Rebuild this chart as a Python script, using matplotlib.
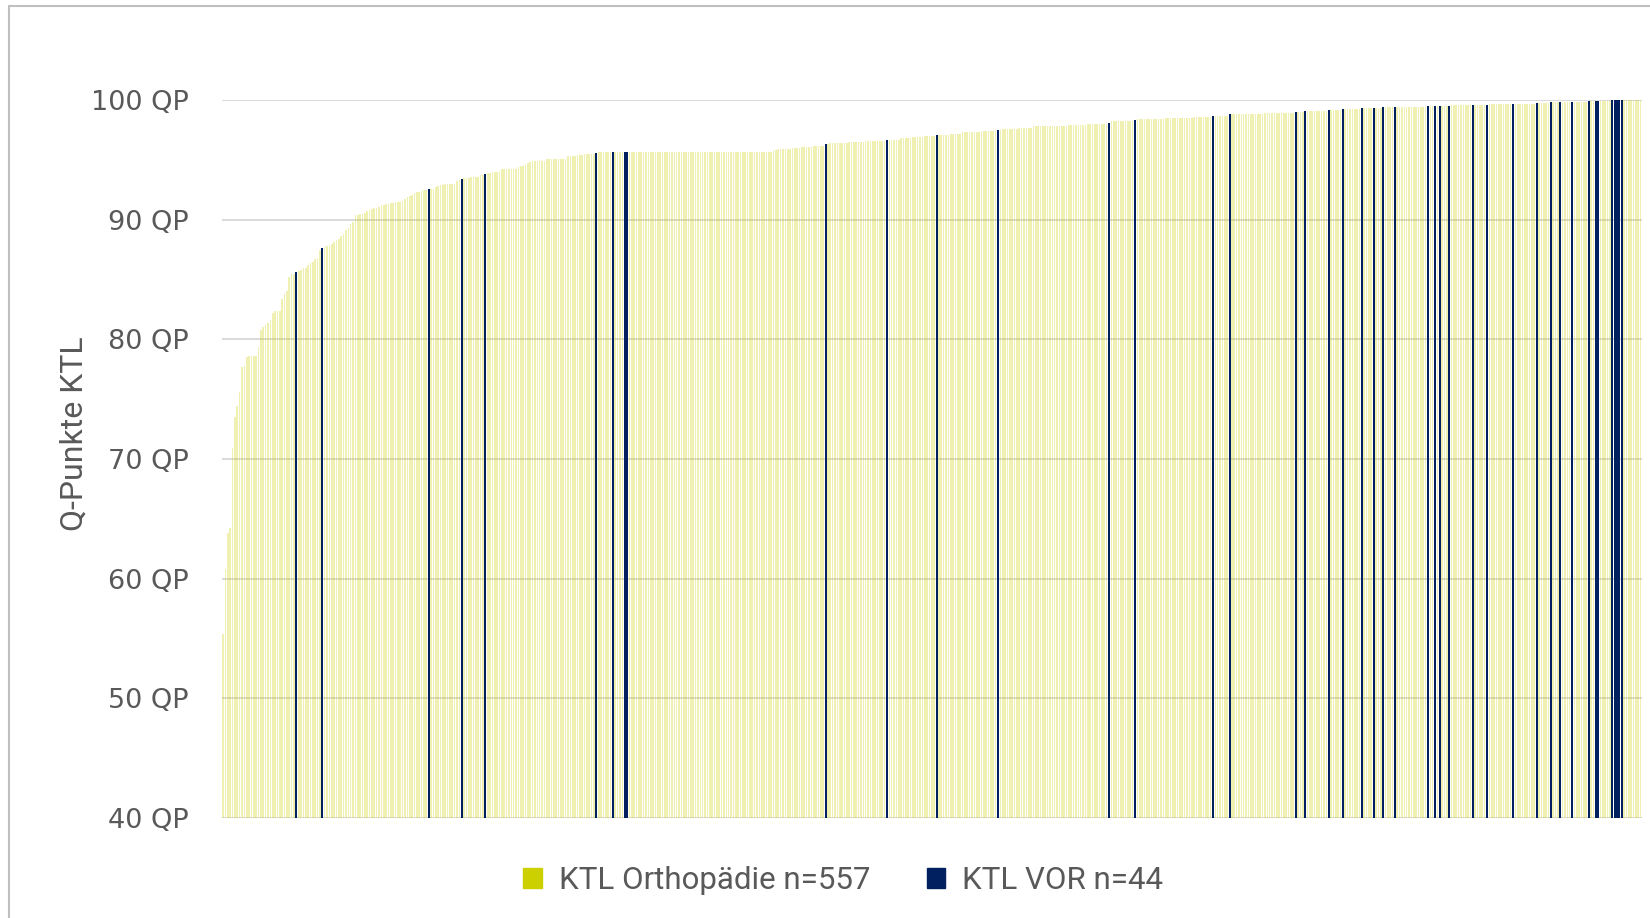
import numpy as np
import matplotlib.pyplot as plt
from matplotlib.patches import Patch, Rectangle

# KTL Orthopädie: Q-Punkte (Wert, Anzahl Einrichtungen)
ortho_qp = [55.4, 60.8, 63.8, 64.2, 70.9, 73.5, 74.4, 75.6, 77.7, 77.8, 78.5, 78.6,
            79.4, 80.8, 81.0, 81.2, 81.4, 81.6, 82.2, 82.4, 83.4, 83.8, 84.0, 85.2,
            85.5, 85.7, 85.8, 86.0, 86.2, 86.4, 86.5, 86.7, 86.8, 87.5, 87.7, 87.8,
            87.9, 88.0, 88.1, 88.3, 88.4, 88.6, 88.8, 89.1, 89.3, 89.6, 89.8, 90.4,
            90.5, 90.6, 90.7, 90.8, 90.9, 91.0, 91.1, 91.2, 91.3, 91.4, 91.5, 91.6,
            91.7, 91.9, 92.0, 92.1, 92.2, 92.3, 92.4, 92.5, 92.6, 92.7, 92.8, 92.9,
            93.0, 93.2, 93.3, 93.5, 93.6, 93.7, 93.9, 94.0, 94.1, 94.2, 94.4, 94.5,
            94.6, 94.7, 94.8, 94.9, 95.1, 95.3, 95.4, 95.5, 95.65, 95.68, 95.7, 95.8,
            95.9, 96.0, 96.1, 96.2, 96.3, 96.4, 96.5, 96.6, 96.7, 96.8, 96.9, 97.0,
            97.1, 97.2, 97.3, 97.4, 97.5, 97.6, 97.7, 97.8, 97.9, 98.0, 98.25, 98.4,
            98.5, 98.6, 98.7, 98.8, 98.9, 99.0, 99.05, 99.1, 99.2, 99.25, 99.3, 99.35,
            99.38, 99.45, 99.5, 99.51, 99.52, 99.55, 99.58, 99.65, 99.7, 99.75, 99.8,
            99.82, 99.85, 99.9, 99.95, 100.0]
ortho_n = [1, 1, 1, 1, 1, 1, 1, 1, 1, 1, 1, 4,
           1, 1, 1, 1, 1, 1, 1, 3, 1, 1, 1, 1,
           2, 1, 1, 2, 1, 1, 1, 1, 1, 1, 1, 1,
           1, 1, 1, 1, 1, 1, 1, 1, 1, 1, 1, 2,
           2, 1, 1, 1, 1, 2, 1, 2, 2, 2, 3, 1,
           1, 1, 1, 1, 1, 2, 1, 2, 2, 1, 1, 2,
           5, 1, 1, 3, 4, 2, 2, 3, 1, 7, 1, 2,
           1, 1, 1, 6, 9, 4, 3, 5, 6, 4, 61, 2,
           6, 4, 5, 5, 1, 8, 7, 9, 5, 5, 5, 5,
           5, 5, 8, 7, 1, 7, 6, 15, 8, 9, 10, 12,
           12, 8, 6, 14, 13, 3, 1, 8, 5, 7, 4, 3,
           4, 13, 2, 1, 3, 9, 5, 10, 9, 5, 3,
           4, 6, 2, 5, 8]

# KTL VOR: Q-Punkte je Einrichtung
vor_qp = [85.6, 87.6, 92.55, 93.4, 93.8, 95.6, 95.68, 95.7, 95.7, 96.3, 96.7, 97.1,
          97.5, 98.1, 98.3, 98.7, 98.8, 99.0, 99.05, 99.2, 99.25, 99.3, 99.35, 99.38,
          99.4, 99.5, 99.51, 99.52, 99.53, 99.57, 99.6, 99.67, 99.75, 99.8, 99.82,
          99.85, 99.9, 99.92, 99.92, 100.0, 100.0, 100.0, 100.0, 100.0]

y_ticks = [40, 50, 60, 70, 80, 90, 100]
y_labels = ['40 QP', '50 QP', '60 QP', '70 QP', '80 QP', '90 QP', '100 QP']

yellow = '#cdd000'
navy = '#002060'
grey = '#595959'

# alle Einrichtungen gemeinsam aufsteigend sortieren
values = np.concatenate([np.repeat(ortho_qp, ortho_n), vor_qp])
is_vor = np.concatenate([np.zeros(sum(ortho_n), bool), np.ones(len(vor_qp), bool)])
order = np.lexsort((~is_vor, values))
values = values[order]
is_vor = is_vor[order]
x = np.arange(len(values))

fig = plt.figure(figsize=(16.5, 9.18), dpi=100)
ax = fig.add_axes([0.1345, 0.109, 0.8605, 0.782])

ax.bar(x[~is_vor], values[~is_vor], width=0.68, color=yellow, alpha=0.3, linewidth=0)
ax.bar(x[is_vor], values[is_vor], width=0.85, color=navy, linewidth=0)

ax.set_ylim(40, 100)
ax.set_xlim(-0.5, len(values) - 0.5)
ax.set_yticks(y_ticks)
ax.set_yticklabels(y_labels, fontsize=19.5, color=grey, family='DejaVu Sans')
ax.tick_params(axis='y', length=0, pad=24)
ax.set_xticks([])
ax.yaxis.grid(True, color='#d9d9d9', linewidth=1.4)
ax.set_axisbelow(True)
for s in ax.spines.values():
    s.set_visible(False)

fig.text(0.045, 0.528, 'Q-Punkte KTL', rotation=90, ha='center', va='center',
         fontsize=23, color=grey, family=['Roboto', 'DejaVu Sans'])

handles = [Patch(color=yellow, label='KTL Orthopädie n=557'),
           Patch(color=navy, label='KTL VOR n=44')]
fig.legend(handles=handles, loc='center', bbox_to_anchor=(0.511, 0.041), ncol=2,
           frameon=False, handlelength=0.6, handleheight=0.6, handletextpad=0.55,
           columnspacing=1.8,
           prop={'family': ['Roboto', 'DejaVu Sans'], 'size': 22.5},
           labelcolor=grey)

# grauer Rahmen des Diagramms
fig.patches.append(Rectangle((0.0055, -0.05), 1.1, 1.0435, transform=fig.transFigure,
                             fill=False, edgecolor='#bfbfbf', linewidth=1.5))

fig.savefig('out.png', dpi=100)
